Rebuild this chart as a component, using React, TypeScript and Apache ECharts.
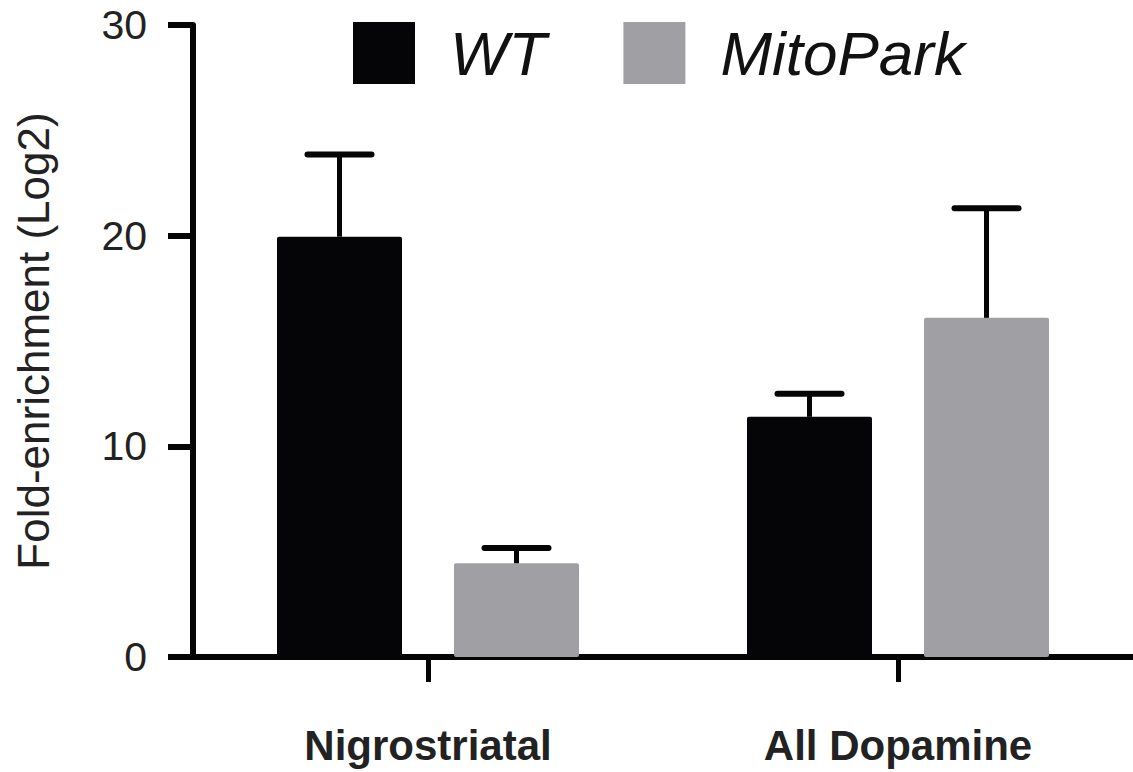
import React, { useEffect, useRef } from "react";
import * as echarts from "echarts";

const categories = ["Nigrostriatal", "All Dopamine"];
const seriesNames = ["WT", "MitoPark"];
const wtMeans = [19.95, 11.4];
const wtUpper = [23.85, 12.5];
const mpMeans = [4.45, 16.1];
const mpUpper = [5.17, 21.3];
const yTicks = { min: 0, max: 30, interval: 10 };

const FONT = "'Liberation Sans', Arial, Helvetica, sans-serif";

function errorSeries(name: string, means: number[], upper: number[], sign: number) {
  return {
    type: "custom",
    name: name + " error",
    z: 5,
    silent: true,
    encode: { x: 0, y: [1, 2] },
    data: means.map((m, i) => [i, m, upper[i]]),
    renderItem: (params: any, api: any) => {
      const cat = api.value(0);
      const lo = api.value(1);
      const hi = api.value(2);
      const base = api.coord([cat, lo]);
      const top = api.coord([cat, hi]);
      const band = api.size([1, 0])[0];
      const x = base[0] + sign * band * 0.1883;
      return {
        type: "group",
        children: [
          {
            type: "line",
            shape: { x1: x, y1: base[1], x2: x, y2: top[1] },
            style: { stroke: "#050505", lineWidth: 5 },
          },
          {
            type: "line",
            shape: { x1: x - 32, y1: top[1], x2: x + 32, y2: top[1] },
            style: { stroke: "#050505", lineWidth: 6, lineCap: "round" },
          },
        ],
      };
    },
  };
}

export default function App() {
  const ref = useRef<HTMLDivElement>(null);
  useEffect(() => {
    document.body.style.margin = "0";
    const chart = echarts.init(ref.current!, undefined, { renderer: "svg" });
    chart.setOption({
      animation: false,
      backgroundColor: "#ffffff",
      textStyle: { fontFamily: FONT },
      legend: {
        left: 353,
        top: 18,
        padding: [4, 0, 0, 0],
        itemWidth: 62,
        itemHeight: 62,
        itemGap: 77,
        icon: "rect",
        data: seriesNames,
        textStyle: {
          fontFamily: FONT,
          fontSize: 62,
          fontStyle: "italic",
          color: "#111",
          padding: [0, 0, 0, 30],
        },
      },
      grid: { left: 193, right: 0, top: 25, bottom: 115 },
      xAxis: {
        type: "category",
        data: categories,
        axisLine: { show: true, lineStyle: { color: "#050505", width: 6 } },
        axisTick: { show: true, alignWithLabel: true, length: 25, lineStyle: { color: "#050505", width: 5 } },
        axisLabel: {
          margin: 67,
          fontSize: 42,
          fontWeight: "bold",
          color: "#222",
          fontFamily: FONT,
        },
        splitLine: { show: false },
      },
      yAxis: {
        type: "value",
        min: yTicks.min,
        max: yTicks.max,
        interval: yTicks.interval,
        name: "Fold-enrichment (Log2)",
        nameLocation: "middle",
        nameRotate: 90,
        nameGap: 138,
        nameTextStyle: { fontSize: 44, color: "#222", fontFamily: FONT },
        axisLine: { show: true, lineStyle: { color: "#050505", width: 6 } },
        axisTick: { show: true, length: 25, lineStyle: { color: "#050505", width: 6 } },
        axisLabel: { margin: 46, fontSize: 41, color: "#222", fontFamily: FONT },
        splitLine: { show: false },
      },
      series: [
        {
          type: "bar",
          name: seriesNames[0],
          data: wtMeans,
          barWidth: 125,
          barGap: "41.6%",
          itemStyle: { color: "#050508", borderRadius: 2 },
        },
        {
          type: "bar",
          name: seriesNames[1],
          data: mpMeans,
          barWidth: 125,
          barGap: "41.6%",
          itemStyle: { color: "#a0a0a4", borderRadius: 2 },
        },
        errorSeries(seriesNames[0], wtMeans, wtUpper, -1),
        errorSeries(seriesNames[1], mpMeans, mpUpper, 1),
      ],
    });
    return () => chart.dispose();
  }, []);
  return <div ref={ref} style={{ width: 1133, height: 772 }} />;
}
